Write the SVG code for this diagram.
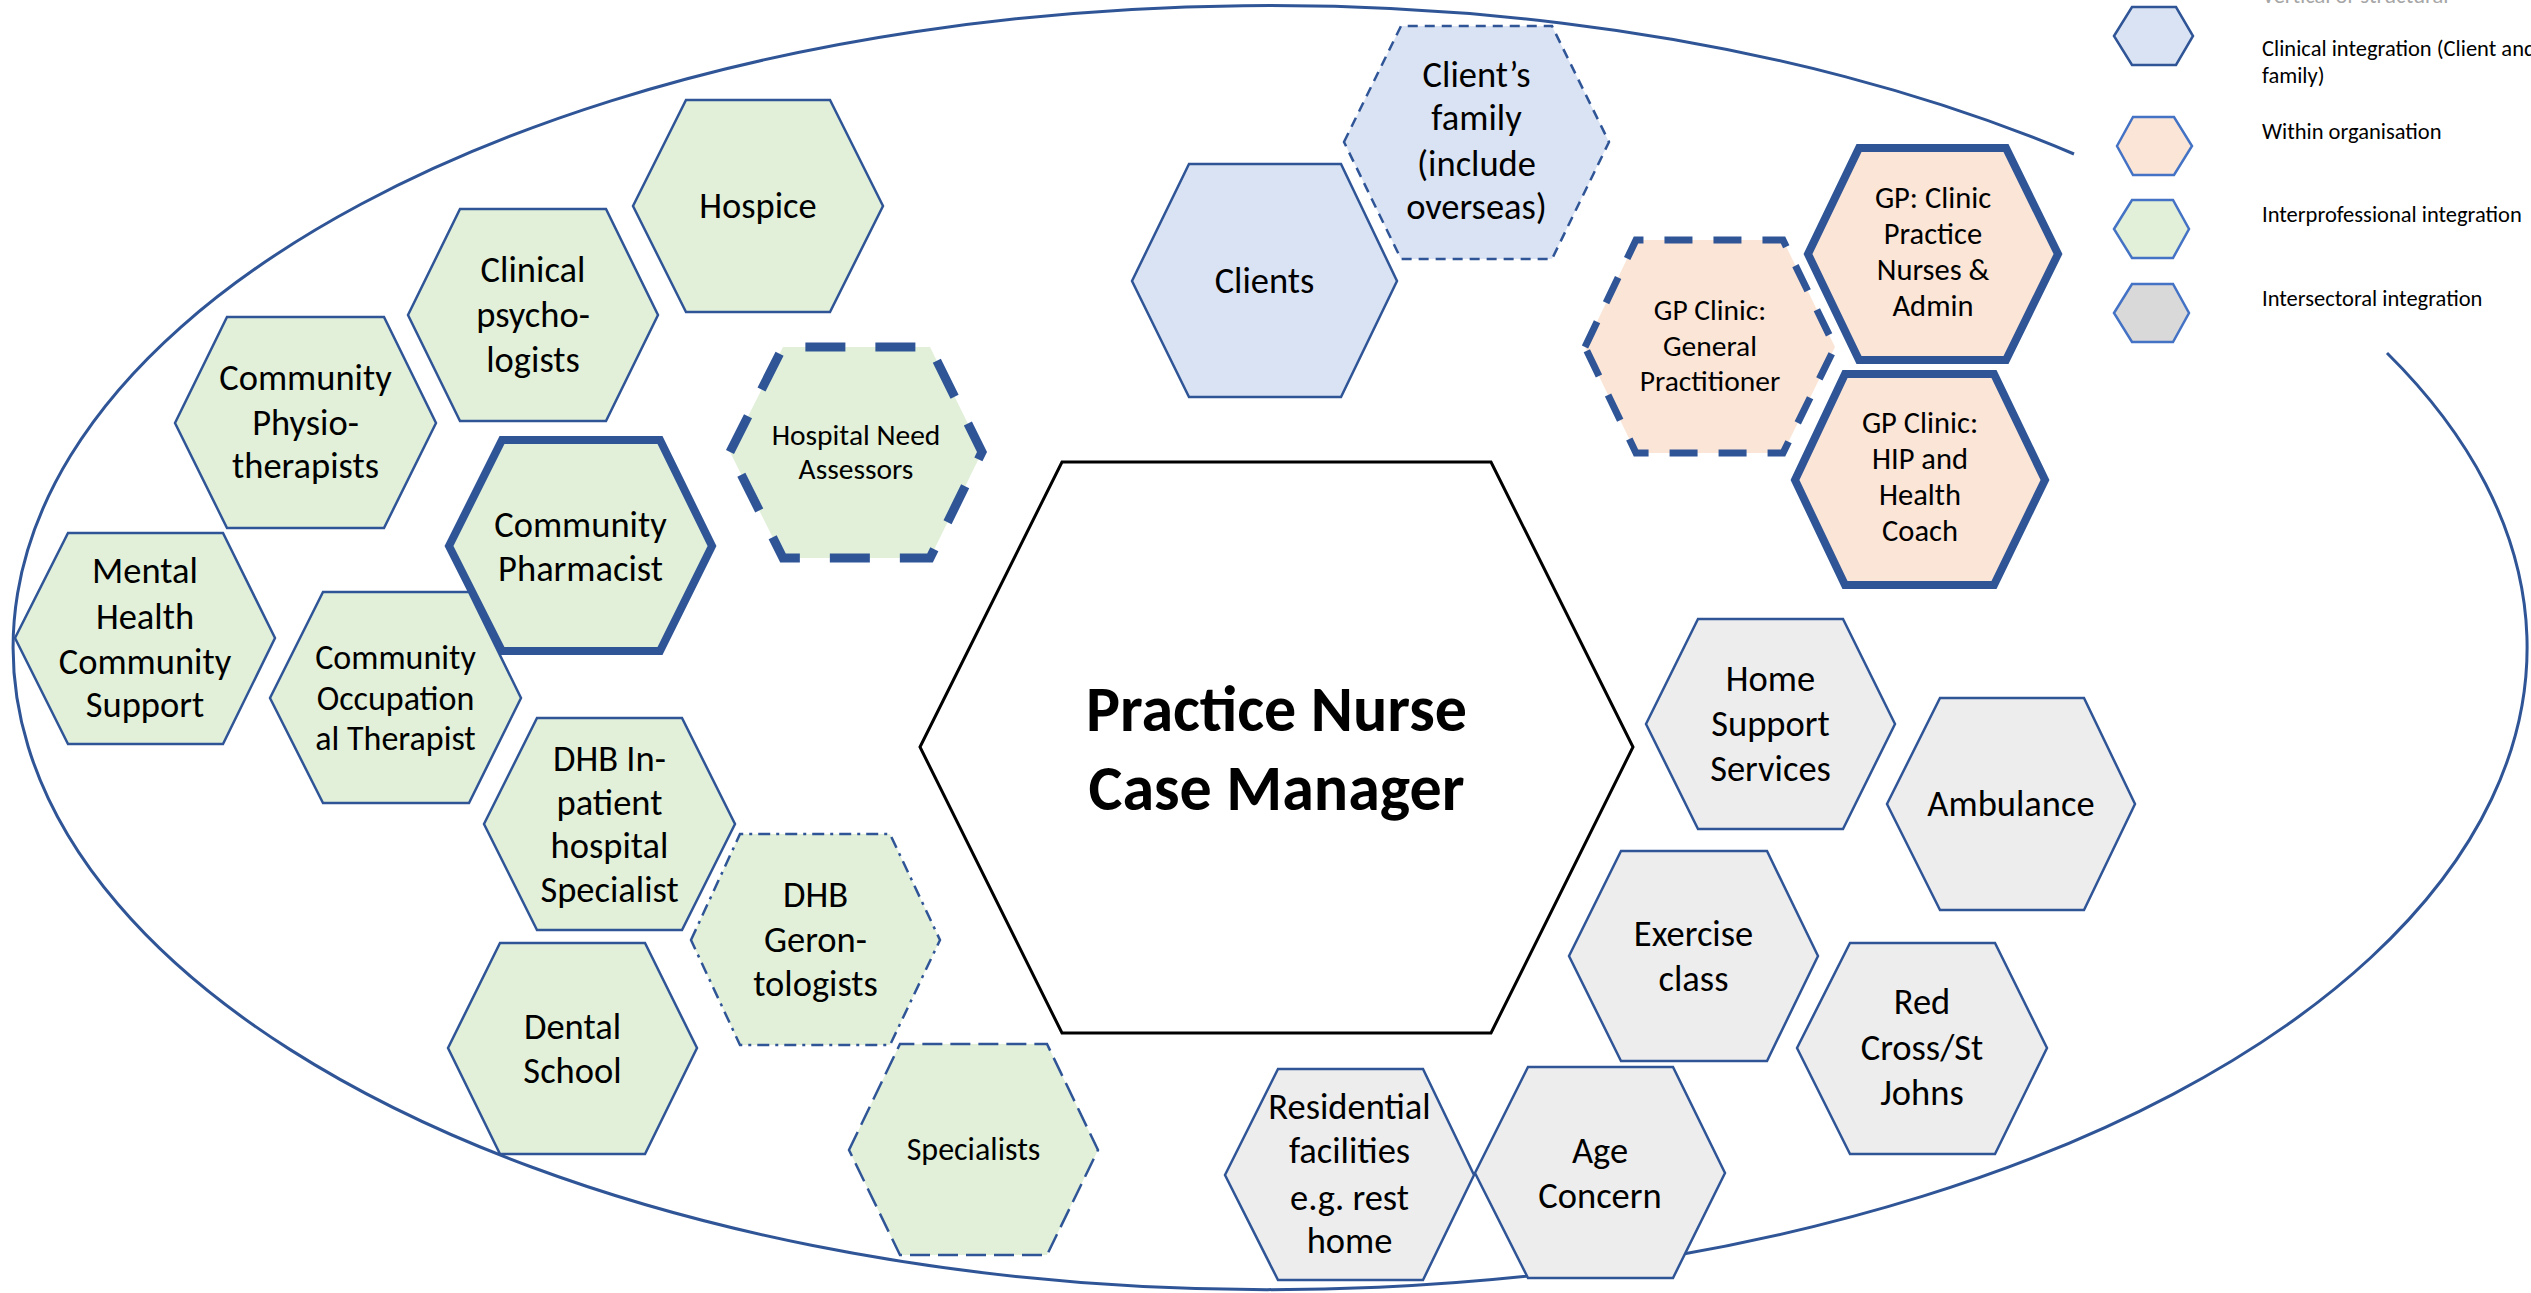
<svg xmlns="http://www.w3.org/2000/svg" width="2531" height="1293" viewBox="0 0 2531 1293">
<style>
  text { font-family: Carlito, Calibri, Lato, "Liberation Sans", sans-serif; fill: #000; text-anchor: middle; }
  .t36 { font-size: 36.5px; }
  .t33 { font-size: 34px; }
  .t32 { font-size: 30.5px; }
  .t28 { font-size: 29.5px; }
  .t31 { font-size: 32px; }
  .big { font-size: 64px; font-weight: bold; }
  .leg { font-size: 22.5px; text-anchor: start; }
  .hex { stroke: #2F5597; stroke-width: 2.5; stroke-linejoin: miter; }
  .green { fill: #E2F0D9; }
  .blue { fill: #DAE3F3; }
  .peach { fill: #FBE5D6; }
  .grey { fill: #EDEDED; }
  .thick { stroke-width: 8; }
  .tdash { stroke-width: 9; stroke-dasharray: 40 30; }
  .mdash { stroke-width: 7; stroke-dasharray: 28 21; }
  .sdash { stroke-dasharray: 10 7; }
  .ldash { stroke-dasharray: 20 8; }
  .dashdot { stroke-dasharray: 12 6 3 6; }
  .legstroke { stroke: #4472C4; stroke-width: 2.5; }
</style>
<g id="boundary">
  <path d="M 2387 353 A 1257 642 0 1 1 2074 154" fill="none" stroke="#2F5597" stroke-width="3"/>
</g>
<g id="connectors"></g>
<g id="hospice"><polygon class="hex green" points="633,206 686,100 830,100 883,206 830,312 686,312"/>
  <text class="t36" x="758" y="218">Hospice</text></g>
<g id="clinical-psychologists"><polygon class="hex green" points="408,315 460,209 606,209 658,315 606,421 460,421"/>
  <text class="t36" x="533" y="282">Clinical</text><text class="t36" x="533" y="327">psycho-</text><text class="t36" x="533" y="372">logists</text></g>
<g id="community-physio"><polygon class="hex green" points="175,423 227,317 384,317 436,423 384,528 227,528"/>
  <text class="t36" x="305.5" y="390">Community</text><text class="t36" x="305.5" y="435">Physio-</text><text class="t36" x="305.5" y="478">therapists</text></g>
<g id="hospital-need-assessors"><polygon class="hex green tdash" points="730,452 783,347 930,347 982,452 930,558 783,558"/>
  <text class="t28" x="856" y="445">Hospital Need</text><text class="t28" x="856" y="479">Assessors</text></g>
<g id="community-pharmacist"><polygon class="hex green thick" points="449,546 502,440 660,440 712,546 660,651 502,651"/>
  <text class="t36" x="580.5" y="537">Community</text><text class="t36" x="580.5" y="581">Pharmacist</text></g>
<g id="mental-health"><polygon class="hex green" points="15,638 68,533 223,533 275,638 223,744 68,744"/>
  <text class="t36" x="145" y="583">Mental</text><text class="t36" x="145" y="629">Health</text><text class="t36" x="145" y="674">Community</text><text class="t36" x="145" y="717">Support</text></g>
<g id="community-ot"><polygon class="hex green" points="270,698 323,592 469,592 521,698 469,803 323,803"/>
  <text class="t33" x="395.5" y="669">Community</text><text class="t33" x="395.5" y="710">Occupation</text><text class="t33" x="395.5" y="750">al Therapist</text></g>
<g id="dhb-inpatient"><polygon class="hex green" points="484,824 537,718 682,718 735,824 682,930 537,930"/>
  <text class="t36" x="609.5" y="771">DHB In-</text><text class="t36" x="609.5" y="815">patient</text><text class="t36" x="609.5" y="858">hospital</text><text class="t36" x="609.5" y="902">Specialist</text></g>
<g id="dhb-gerontologists"><polygon class="hex green dashdot" points="691,940 740,834 890,834 940,940 890,1045 740,1045"/>
  <text class="t36" x="815.5" y="907">DHB</text><text class="t36" x="815.5" y="952">Geron-</text><text class="t36" x="815.5" y="996">tologists</text></g>
<g id="dental-school"><polygon class="hex green" points="448,1048 500,943 645,943 697,1048 645,1154 500,1154"/>
  <text class="t36" x="572.5" y="1039">Dental</text><text class="t36" x="572.5" y="1083">School</text></g>
<g id="specialists"><polygon class="hex green ldash" points="849,1150 900,1044 1047,1044 1098,1150 1047,1255 900,1255"/>
  <text class="t31" x="973.5" y="1160">Specialists</text></g>
<g id="clients"><polygon class="hex blue" points="1132,281 1189,164 1341,164 1397,281 1341,397 1189,397"/>
  <text class="t36" x="1264.5" y="293">Clients</text></g>
<g id="clients-family"><polygon class="hex blue sdash" points="1344,142 1401,26 1552,26 1609,142 1552,259 1401,259"/>
  <text class="t36" x="1476.5" y="87">Client’s</text><text class="t36" x="1476.5" y="130">family</text><text class="t36" x="1476.5" y="176">(include</text><text class="t36" x="1476.5" y="219">overseas)</text></g>
<g id="gp-general-practitioner"><polygon class="hex peach mdash" points="1585,347 1636,240 1783,240 1835,347 1783,453 1636,453"/>
  <text class="t28" x="1710" y="320">GP Clinic:</text><text class="t28" x="1710" y="356">General</text><text class="t28" x="1710" y="391">Practitioner</text></g>
<g id="gp-practice-nurses"><polygon class="hex peach thick" points="1808,254 1859,148 2006,148 2058,254 2006,360 1859,360"/>
  <text class="t32" x="1933" y="208">GP: Clinic</text><text class="t32" x="1933" y="244">Practice</text><text class="t32" x="1933" y="280">Nurses &amp;</text><text class="t32" x="1933" y="316">Admin</text></g>
<g id="gp-hip-coach"><polygon class="hex peach thick" points="1795,480 1845,374 1994,374 2045,480 1994,585 1845,585"/>
  <text class="t32" x="1920" y="433">GP Clinic:</text><text class="t32" x="1920" y="469">HIP and</text><text class="t32" x="1920" y="505">Health</text><text class="t32" x="1920" y="541">Coach</text></g>
<g id="practice-nurse"><polygon points="920,747 1062,462 1491,462 1633,747 1491,1033 1062,1033" fill="#FFFFFF" stroke="#000" stroke-width="3"/>
  <text class="big" x="1276.5" y="731">Practice Nurse</text><text class="big" x="1276.5" y="810">Case Manager</text></g>
<g id="home-support"><polygon class="hex grey" points="1646,724 1698,619 1843,619 1895,724 1843,829 1698,829"/>
  <text class="t36" x="1770.5" y="691">Home</text><text class="t36" x="1770.5" y="736">Support</text><text class="t36" x="1770.5" y="781">Services</text></g>
<g id="ambulance"><polygon class="hex grey" points="1887,804 1940,698 2084,698 2135,804 2084,910 1940,910"/>
  <text class="t36" x="2011" y="816">Ambulance</text></g>
<g id="exercise-class"><polygon class="hex grey" points="1569,956 1621,851 1767,851 1818,956 1767,1061 1621,1061"/>
  <text class="t36" x="1693.5" y="946">Exercise</text><text class="t36" x="1693.5" y="991">class</text></g>
<g id="red-cross"><polygon class="hex grey" points="1797,1048 1850,943 1995,943 2047,1048 1995,1154 1850,1154"/>
  <text class="t36" x="1922" y="1014">Red</text><text class="t36" x="1922" y="1060">Cross/St</text><text class="t36" x="1922" y="1105">Johns</text></g>
<g id="residential"><polygon class="hex grey" points="1225,1175 1278,1069 1423,1069 1474,1175 1423,1280 1278,1280"/>
  <text class="t36" x="1349.5" y="1119">Residential</text><text class="t36" x="1349.5" y="1163">facilities</text><text class="t36" x="1349.5" y="1210">e.g. rest</text><text class="t36" x="1349.5" y="1253">home</text></g>
<g id="age-concern"><polygon class="hex grey" points="1475,1173 1528,1067 1673,1067 1725,1173 1673,1278 1528,1278"/>
  <text class="t36" x="1600" y="1163">Age</text><text class="t36" x="1600" y="1208">Concern</text></g>
<g id="legend">
  <text class="leg" x="2262" y="3" style="fill:#A6A6A6">Vertical or structural</text>
  <polygon points="2114,36 2132,7 2176,7 2193,36 2176,65 2132,65" fill="#DAE3F3" stroke="#2F5597" stroke-width="2.5"/>
  <text class="leg" x="2262" y="56">Clinical integration (Client and</text>
  <text class="leg" x="2262" y="83">family)</text>
  <polygon class="legstroke" points="2117,146 2133,117 2174,117 2192,146 2174,175 2133,175" fill="#FBE5D6"/>
  <text class="leg" x="2262" y="139">Within organisation</text>
  <polygon class="legstroke" points="2114,229 2132,200 2173,200 2189,229 2173,258 2132,258" fill="#E2F0D9"/>
  <text class="leg" x="2262" y="222">Interprofessional integration</text>
  <polygon class="legstroke" points="2114,313 2132,284 2173,284 2189,313 2173,342 2132,342" fill="#D9D9D9"/>
  <text class="leg" x="2262" y="306">Intersectoral integration</text>
</g>
</svg>
